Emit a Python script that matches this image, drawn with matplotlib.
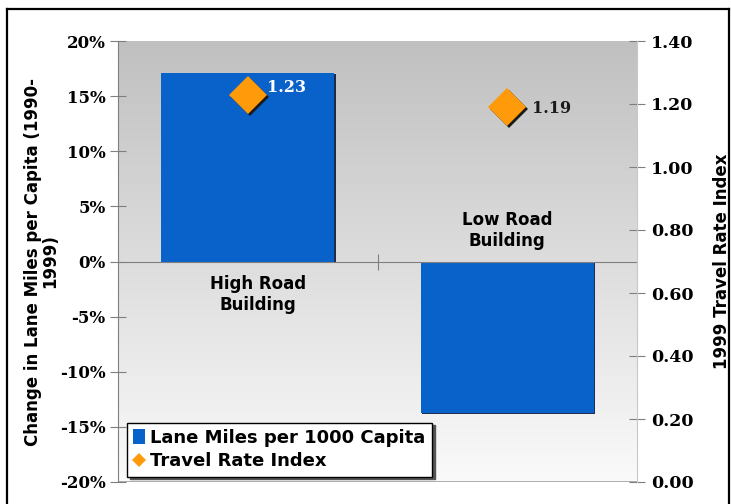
import numpy as np
import matplotlib
matplotlib.use("Agg")
import matplotlib.pyplot as plt
from matplotlib.patches import Patch
from matplotlib.lines import Line2D
from matplotlib.transforms import ScaledTranslation
import matplotlib.patheffects as pe

# Data
categories = ["High Road\nBuilding", "Low Road\nBuilding"]
lane_miles_change = [17.1, -13.7]          # % change 1990-1999
travel_rate_index = [1.23, 1.19]           # 1999 TRI
left_ticks = [-20, -15, -10, -5, 0, 5, 10, 15, 20]
right_ticks = [0.0, 0.2, 0.4, 0.6, 0.8, 1.0, 1.2, 1.4]

bar_color = "#0862c9"
diamond_color = "#ff9a0a"
axis_gray = "#7f7f7f"

fig = plt.figure(figsize=(7.31, 5.04), dpi=100)
fig.patch.set_facecolor("white")

# Outer frame
for xs, ys in [([0.0096, 0.0096], [-0.1, 0.982]),
               ([0.0096, 0.997], [0.982, 0.982]),
               ([0.997, 0.997], [-0.1, 0.982])]:
    fig.add_artist(Line2D(xs, ys, transform=fig.transFigure, color="black", lw=1.6))

ax = fig.add_axes([118 / 731, 1 - 482 / 504, (637 - 118) / 731, (482 - 41) / 504])
x = np.arange(len(categories))
ax.set_xlim(-0.5, 1.5)
ax.set_ylim(-20, 20)

# Vertical gray gradient behind the plot
grad = np.linspace(0, 1, 256).reshape(-1, 1)
top_c = np.array([192, 192, 192]) / 255
bot_c = np.array([250, 250, 250]) / 255
img = top_c * (1 - grad[..., None]) + bot_c * grad[..., None]
img = img.reshape(256, 1, 3)
ax.imshow(img, extent=(-0.5, 1.5, -20, 20), aspect="auto", zorder=0, origin="upper")

bars = ax.bar(x, lane_miles_change, width=0.667, color=bar_color, zorder=2,
              path_effects=[pe.SimplePatchShadow(offset=(1.2, -0.8), shadow_rgbFace="#0a1a3a", alpha=0.9),
                            pe.Normal()])

# Zero line acts as category axis
ax.spines["bottom"].set_position(("data", 0))
ax.spines["bottom"].set_color(axis_gray)
ax.spines["top"].set_visible(False)
ax.spines["right"].set_visible(False)
ax.spines["left"].set_color(axis_gray)
ax.axhline(-20, color="#a0a0a0", lw=1.2, zorder=1)
ax.set_xticks([0.5])
ax.set_xticklabels([])
ax.tick_params(axis="x", direction="inout", length=12, color=axis_gray)

ax.set_yticks(left_ticks)
ax.set_yticklabels([f"{t}%" for t in left_ticks])
ax.tick_params(axis="y", direction="inout", length=12, color=axis_gray, pad=3)
for lab in ax.get_yticklabels():
    lab.set_fontfamily("DejaVu Serif")
    lab.set_fontweight("bold")
    lab.set_fontsize(12)

ax.set_ylabel("Change in Lane Miles per Capita (1990-\n1999)", fontsize=12, fontweight="bold",
              linespacing=0.95)
ax.yaxis.set_label_coords(-0.113, 0.5)

# Category labels next to the zero line
ax.text(x[0] + 0.04, -1.2, categories[0], ha="center", va="top", fontsize=12,
        fontweight="bold", linespacing=1.25, zorder=4)
ax.text(x[1], 1.0, categories[1], ha="center", va="bottom", fontsize=12,
        fontweight="bold", linespacing=1.25, zorder=4)

# Secondary axis: Travel Rate Index
ax2 = ax.twinx()
ax2.set_ylim(0, 1.4)
for s in ["top", "bottom", "left"]:
    ax2.spines[s].set_visible(False)
ax2.spines["right"].set_color("#c8c8c8")
ax2.set_yticks(right_ticks)
ax2.set_yticklabels([f"{t:.2f}" for t in right_ticks])
ax2.tick_params(axis="y", direction="inout", length=12, color=axis_gray, pad=4)
for lab in ax2.get_yticklabels():
    lab.set_fontfamily("DejaVu Serif")
    lab.set_fontweight("bold")
    lab.set_fontsize(12.5)
ax2.set_ylabel("1999 Travel Rate Index", fontsize=12, fontweight="bold")
ax2.yaxis.set_label_coords(1.147, 0.5)

# Diamonds with a dark drop shadow
shadow_tf = ax2.transData + ScaledTranslation(1.6 / 72, -1.6 / 72, fig.dpi_scale_trans)
ax2.plot(x, travel_rate_index, linestyle="none", marker="D", markersize=19,
         color="#1a1a1a", markeredgewidth=0, zorder=4, transform=shadow_tf)
ax2.plot(x, travel_rate_index, linestyle="none", marker="D", markersize=19,
         color=diamond_color, markeredgewidth=0, zorder=5)

label_colors = ["white", "#1a1a1a"]
label_offsets = [(14, 5), (18, -1)]
for xi, v, c, off in zip(x, travel_rate_index, label_colors, label_offsets):
    ax2.annotate(f"{v:.2f}", (xi, v), xytext=off, textcoords="offset points",
                 ha="left", va="center", color=c, fontsize=11.5, fontweight="bold",
                 fontfamily="DejaVu Serif", zorder=6)

handles = [Patch(facecolor=bar_color, edgecolor="none", label="Lane Miles per 1000 Capita"),
           Line2D([], [], linestyle="none", marker="D", markersize=7, color=diamond_color,
                  markeredgewidth=0, label="Travel Rate Index")]
leg = ax2.legend(handles=handles, loc="lower left", bbox_to_anchor=(0.017, 0.012),
                 borderaxespad=0, prop={"weight": "bold", "size": 13},
                 frameon=True, fancybox=False, edgecolor="black", framealpha=1,
                 handlelength=0.65, handleheight=0.9, handletextpad=0.3,
                 borderpad=0.35, labelspacing=0.3,
                 shadow={"ox": 2, "oy": -2, "color": "#555555", "alpha": 1})
leg.get_frame().set_linewidth(1.0)
leg.set_zorder(10)

fig.savefig("out.png", dpi=100)
